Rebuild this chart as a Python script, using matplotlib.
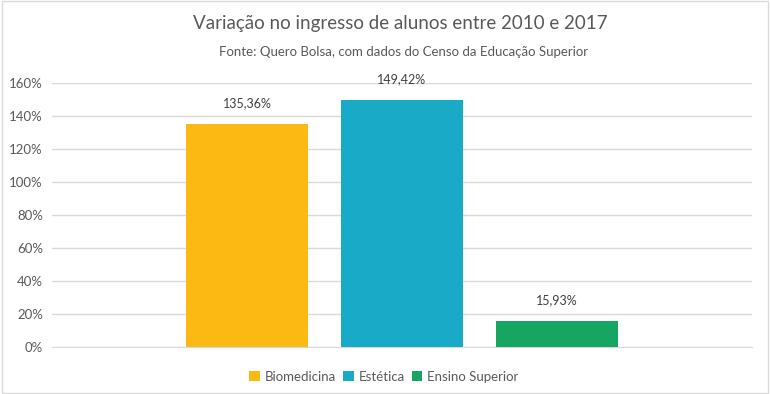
import matplotlib.pyplot as plt
from matplotlib.patches import Rectangle

series = ["Biomedicina", "Estética", "Ensino Superior"]
values = [135.36, 149.42, 15.93]
labels = ["135,36%", "149,42%", "15,93%"]
colors = ["#FDB913", "#18AAC6", "#16A661"]
yticks = [0, 20, 40, 60, 80, 100, 120, 140, 160]

plt.rcParams['font.family'] = ['Lato', 'DejaVu Sans']

W, H = 770, 394
fig = plt.figure(figsize=(W / 100, H / 100), dpi=100)
ax = fig.add_axes([52 / W, 1 - 347 / H, 700 / W, 264 / H])

offsets = [-1, 0, 1]
width = 122 / 155
for off, v, c, lab, s in zip(offsets, values, colors, labels, series):
    ax.bar(off, v, width=width, color=c, label=s, zorder=3)
    ax.text(off, v + 9, lab, ha='center', va='bottom', fontsize=9, color='#404040')

ax.set_xlim(-350 / 155, 350 / 155)
ax.set_ylim(0, 160)
ax.set_yticks(yticks)
ax.set_yticklabels([f"{t}%" for t in yticks], fontsize=9.5, color='#595959')
ax.set_xticks([])
ax.grid(axis='y', color='#D9D9D9', linewidth=1, zorder=0)
for sp in ['top', 'right', 'left']:
    ax.spines[sp].set_visible(False)
ax.spines['bottom'].set_color('#D9D9D9')
ax.tick_params(axis='y', length=0, pad=6.5)

fig.text(400 / W, 1 - 24 / H, "Variação no ingresso de alunos entre 2010 e 2017",
         ha='center', va='center', fontsize=13.5, color='#595959')
fig.text(404 / W, 1 - 52 / H, "Fonte: Quero Bolsa, com dados do Censo da Educação Superior",
         ha='center', va='center', fontsize=9.5, color='#595959')

fig.legend(loc='center', bbox_to_anchor=(384 / W, 1 - 377 / H), ncol=3, frameon=False,
           fontsize=9.5, handlelength=0.8, handleheight=0.8, handletextpad=0.4,
           columnspacing=0.5, labelcolor='#595959')

fig.patches.append(Rectangle((0.003, 0.003), 0.994, 0.994, transform=fig.transFigure,
                             fill=False, edgecolor='#D9D9D9', linewidth=1))

fig.savefig("out.png", dpi=100)
